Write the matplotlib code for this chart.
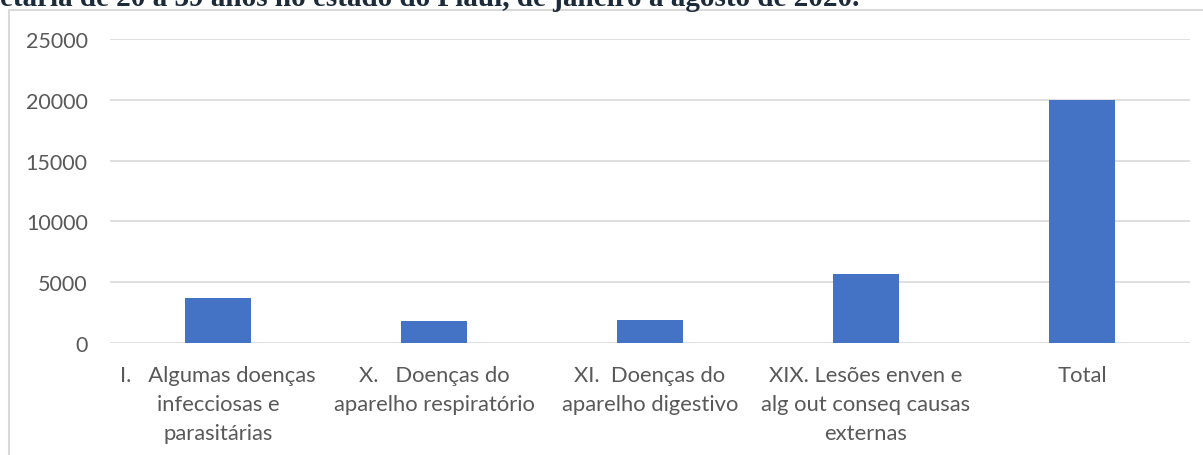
import matplotlib.pyplot as plt
from matplotlib.patches import Rectangle

# Data
categorias = [
    'I.   Algumas doenças\ninfecciosas e\nparasitárias',
    'X.   Doenças do\naparelho respiratório',
    'XI.  Doenças do\naparelho digestivo',
    'XIX. Lesões enven e\nalg out conseq causas\nexternas',
    'Total',
]
obitos = [3680, 1780, 1920, 5700, 19950]
yticks = [0, 5000, 10000, 15000, 20000, 25000]
titulo = 'etária de 20 a 39 anos no estado do Piauí, de janeiro a agosto de 2020.'

fig = plt.figure(figsize=(12.03, 4.56), dpi=100)
ax = fig.add_axes([110 / 1203, 1 - 344 / 456, 1080 / 1203, 304 / 456])

# outer chart border (cropped at bottom and right)
fig.patches.append(Rectangle((8.5 / 1203, -0.1), 1.2, 1 - 10.5 / 456 + 0.1,
                             transform=fig.transFigure, fill=False,
                             edgecolor='#d9d9d9', linewidth=1.5))

# cropped caption above the chart
fig.text(0, 1 - 6 / 456, titulo, family='Liberation Serif', weight='bold',
         fontsize=21, color='#1c2b3a', ha='left', va='baseline')

x = range(len(categorias))
ax.bar(x, obitos, width=0.31, color='#4472C4', zorder=3)

ax.set_xlim(-0.5, len(categorias) - 0.5)
ax.set_ylim(0, 25000)
ax.set_yticks(yticks)
ax.set_yticklabels([str(v) for v in yticks])
ax.set_xticks(list(x))
ax.set_xticklabels(categorias, linespacing=1.56)

for lbl in ax.get_xticklabels() + ax.get_yticklabels():
    lbl.set_family('Lato')
    lbl.set_fontsize(15.5)
    lbl.set_color('#595959')
for lbl in ax.get_xticklabels():
    lbl.set_multialignment('center')
    lbl.set_fontsize(15.8)

ax.tick_params(axis='both', length=0)
ax.tick_params(axis='y', pad=16)
ax.tick_params(axis='x', pad=16)
ax.grid(axis='y', color='#d9d9d9', linewidth=1.2, zorder=0)
for s in ax.spines.values():
    s.set_visible(False)

fig.savefig('out.png', dpi=100)
